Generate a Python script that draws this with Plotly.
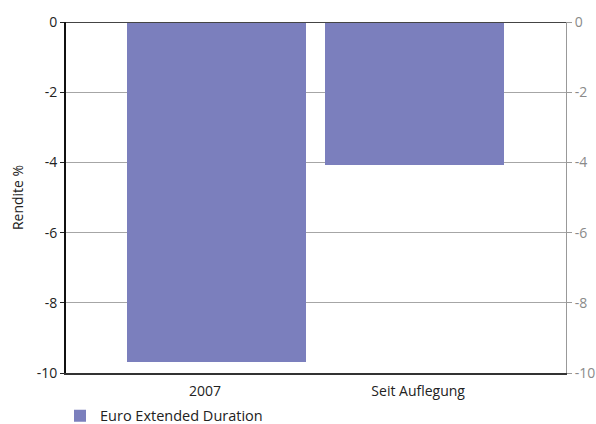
import plotly.graph_objects as go

categories = ["2007", "Seit Auflegung"]
values = [-9.7, -4.07]
series_name = "Euro Extended Duration"
y_ticks = [0, -2, -4, -6, -8, -10]

bar_color = "#7b7fbd"
font_family = "Open Sans, Noto Sans, sans-serif"

fig = go.Figure()
fig.add_trace(go.Bar(
    x=categories, y=values, name=series_name,
    marker=dict(color=bar_color, line=dict(width=0)),
    width=0.904, xaxis="x", yaxis="y", showlegend=True,
))
# invisible points to carry the label axis and right axis
fig.add_trace(go.Scatter(
    x=categories, y=values, mode="markers",
    marker=dict(opacity=0, size=1), xaxis="x2", yaxis="y2",
    showlegend=False, hoverinfo="skip",
))

fig.update_layout(
    width=596, height=424,
    margin=dict(l=66, r=30, t=22, b=51, autoexpand=False),
    paper_bgcolor="white", plot_bgcolor="white",
    font=dict(family=font_family, size=14, color="#222222"),
    bargap=0,
    xaxis=dict(
        type="category", range=[-0.76, 1.765],
        showticklabels=False, ticks="",
        showline=True, linecolor="#333333", linewidth=2, mirror=False,
        showgrid=False, zeroline=False,
    ),
    xaxis2=dict(
        type="category", overlaying="x", side="bottom", anchor="y",
        range=[-0.653, 1.694],
        showline=False, showgrid=False, zeroline=False, ticks="",
        ticklabelstandoff=8,
        tickfont=dict(size=14, color="#222222"),
    ),
    yaxis=dict(
        range=[-10, 0], tickvals=y_ticks, ticktext=[str(v) for v in y_ticks],
        ticks="outside", ticklen=4, tickcolor="#222222", tickwidth=1,
        showline=True, linecolor="#111111", linewidth=2,
        showgrid=True, gridcolor="#a6a6a6", gridwidth=1,
        zeroline=False,
        title=dict(text="Rendite %", font=dict(size=14, color="#222222"), standoff=10),
        tickfont=dict(size=14, color="#222222"),
    ),
    yaxis2=dict(
        range=[-10, 0], tickvals=y_ticks, ticktext=[str(v) for v in y_ticks],
        overlaying="y", side="right", anchor="x",
        ticks="outside", ticklen=5, tickcolor="#999999", tickwidth=1,
        showline=True, linecolor="#999999", linewidth=1,
        showgrid=False, zeroline=False,
        tickfont=dict(size=14, color="#8a8a8a"),
    ),
    legend=dict(
        orientation="h", x=-0.012, y=-0.122, xanchor="left", yanchor="middle",
        xref="paper", yref="paper",
        font=dict(size=14.5, color="#222222"), itemwidth=30,
        bgcolor="rgba(0,0,0,0)",
    ),
    shapes=[dict(type="line", xref="paper", yref="y", x0=0, x1=1, y0=0, y1=0,
                 line=dict(color="#444444", width=2))],
)

fig.write_html("out.html")
